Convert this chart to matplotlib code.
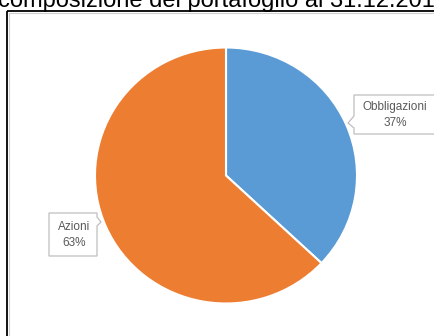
import matplotlib
matplotlib.use("Agg")
import matplotlib.pyplot as plt
from matplotlib.patches import Rectangle, Polygon
from matplotlib.transforms import Affine2D

# Data
title = "composizione del portafoglio al 31.12.2016"
categories = ["Obbligazioni", "Azioni"]
values = [37, 63]
colors = ["#5B9BD5", "#ED7D31"]

W, H = 435, 336
fig = plt.figure(figsize=(W / 100, H / 100), dpi=100)
fig.patch.set_facecolor("white")

# pixel transform (origin top-left)
pix = Affine2D().scale(1.0 / W, -1.0 / H).translate(0, 1) + fig.transFigure

# outer frame (chart border)
fig.patches.append(Rectangle((7.5, 11), 460, 360, transform=pix, fill=False,
                             edgecolor="black", linewidth=1.3, zorder=1))
fig.patches.append(Rectangle((9.2, 12.7), 460, 360, transform=pix, fill=False,
                             edgecolor="#cfcfcf", linewidth=0.8, zorder=1))

# title (cropped at top in reference)
fig.text(-2 / W, 1 - 7 / H, title, ha="left", va="baseline",
         fontsize=17, family="Liberation Sans", color="black")

# pie
ax = fig.add_axes([0, 0, 1, 1])
ax.set_axis_off()
ax.pie(values, colors=colors, startangle=90, counterclock=False,
       wedgeprops=dict(edgecolor="white", linewidth=1.5), radius=1.0)
cx, cy = 226.0, 175.5
rx, ry = 131.0, 128.0
ax.set_aspect("auto")
ax.set_xlim(-cx / rx, (W - cx) / rx)
ax.set_ylim(-(H - cy) / ry, cy / ry)

# callout labels
def callout(pts, lines, tx, ty):
    fig.patches.append(Polygon(pts, closed=True, transform=pix, facecolor="white",
                               edgecolor="#bfbfbf", linewidth=0.9, zorder=5))
    fig.text(tx / W, 1 - ty / H, lines, ha="center", va="center",
             fontsize=8.5, family="Liberation Sans", color="#595959",
             linespacing=1.35, zorder=6)

lab0 = f"{categories[0]}\n{values[0]}%"
lab1 = f"{categories[1]}\n{values[1]}%"
callout([(354, 95), (440, 95), (440, 134), (354, 134), (354, 128), (348, 123),
         (354, 116)], lab0, 395, 115)
callout([(49, 213), (97, 213), (97, 217), (101, 222), (97, 226), (97, 256),
         (49, 256)], lab1, 74, 235)

fig.savefig("out.png", dpi=100, facecolor="white")
